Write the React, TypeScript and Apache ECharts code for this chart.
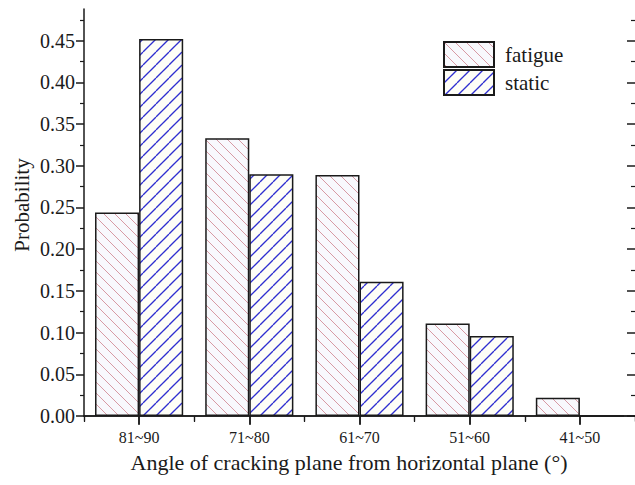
import React, { useEffect, useRef } from "react";
import * as echarts from "echarts";

// Angle classes of the cracking plane, measured from the horizontal
const categories = ["81~90", "71~80", "61~70", "51~60", "41~50"];
const fatigueProb = [0.244, 0.333, 0.289, 0.111, 0.022];
const staticProb = [0.452, 0.29, 0.161, 0.096, 0];

const yMajorTicks = [0, 0.05, 0.1, 0.15, 0.2, 0.25, 0.3, 0.35, 0.4, 0.45];
const yMinorTicks = [0.025, 0.075, 0.125, 0.175, 0.225, 0.275, 0.325, 0.375, 0.425, 0.475];
const yMax = 0.488;

const SERIF = "Liberation Serif";
const INK = "#1a1a1a";

// Builds a small tile with diagonal hatching, used as a repeating fill
function hatchTile(size: number, dir: "/" | "\\", line: string, bg: string, lw: number): string {
  const c = document.createElement("canvas");
  c.width = size;
  c.height = size;
  const ctx = c.getContext("2d")!;
  ctx.fillStyle = bg;
  ctx.fillRect(0, 0, size, size);
  ctx.strokeStyle = line;
  ctx.lineWidth = lw;
  for (const o of [-size, 0, size]) {
    ctx.beginPath();
    if (dir === "/") {
      ctx.moveTo(o, size);
      ctx.lineTo(o + size, 0);
    } else {
      ctx.moveTo(o, 0);
      ctx.lineTo(o + size, size);
    }
    ctx.stroke();
  }
  return c.toDataURL();
}

export default function App() {
  const ref = useRef<HTMLDivElement>(null);

  useEffect(() => {
    if (!ref.current) return;
    const chart = echarts.init(ref.current, undefined, { renderer: "svg" });

    const fatigueFill = {
      image: hatchTile(11, "\\", "#d38e9a", "#f8f9fd", 0.9),
      repeat: "repeat",
      imageWidth: 11,
      imageHeight: 11,
    };
    const staticFill = {
      image: hatchTile(13, "/", "#2f2fd0", "#fefef7", 1.3),
      repeat: "repeat",
      imageWidth: 13,
      imageHeight: 13,
    };

    const hiddenLine = { show: false };
    const valueAxisBase = {
      type: "value" as const,
      min: 0,
      max: yMax,
      interval: 0.05,
      splitLine: { show: false },
    };
    const catAxisBase = {
      type: "category" as const,
      data: categories,
      boundaryGap: true,
      splitLine: { show: false },
    };

    chart.setOption({
      animation: false,
      backgroundColor: "#ffffff",
      textStyle: { fontFamily: SERIF },
      grid: { left: 84, top: 9, width: 551, height: 407, containLabel: false },
      legend: {
        orient: "vertical",
        left: 443,
        top: 41,
        padding: 0,
        itemWidth: 50,
        itemHeight: 25,
        itemGap: 1,
        icon: "rect",
        textStyle: { fontFamily: SERIF, fontSize: 21, lineHeight: 25, color: INK, padding: [0, 0, 0, 6] },
        data: ["fatigue", "static"],
      },
      xAxis: [
        {
          ...catAxisBase,
          position: "bottom",
          axisLine: { show: true, lineStyle: { color: INK, width: 1.5 } },
          axisTick: { show: true, alignWithLabel: true, length: 9, lineStyle: { color: INK, width: 1.5 } },
          axisLabel: { fontFamily: SERIF, fontSize: 16, color: INK, margin: 13 },
        },
        {
          ...catAxisBase,
          position: "bottom",
          axisLine: hiddenLine,
          axisTick: { show: true, length: 5, lineStyle: { color: INK, width: 1.2 } },
          axisLabel: { show: false },
        },
        {
          ...catAxisBase,
          position: "top",
          axisLine: { show: true, lineStyle: { color: INK, width: 1.5 } },
          axisTick: { show: true, inside: true, alignWithLabel: true, length: 8, lineStyle: { color: INK, width: 1.5 } },
          axisLabel: { show: false },
        },
        {
          ...catAxisBase,
          position: "top",
          axisLine: hiddenLine,
          axisTick: { show: true, inside: true, length: 6, lineStyle: { color: INK, width: 1.2 } },
          axisLabel: { show: false },
        },
      ],
      yAxis: [
        {
          ...valueAxisBase,
          position: "left",
          axisLine: { show: true, lineStyle: { color: INK, width: 1.5 } },
          axisTick: { show: true, length: 8, customValues: yMajorTicks, lineStyle: { color: INK, width: 1.5 } },
          axisLabel: {
            customValues: yMajorTicks,
            fontFamily: SERIF,
            fontSize: 20,
            color: INK,
            margin: 9,
            formatter: (v: number) => v.toFixed(2),
          },
        },
        {
          ...valueAxisBase,
          position: "left",
          axisLine: hiddenLine,
          axisTick: { show: true, length: 4, customValues: yMinorTicks, lineStyle: { color: INK, width: 1.2 } },
          axisLabel: { show: false },
        },
        {
          ...valueAxisBase,
          position: "right",
          axisLine: hiddenLine,
          axisTick: { show: true, inside: true, length: 8, customValues: yMajorTicks, lineStyle: { color: INK, width: 1.5 } },
          axisLabel: { show: false },
        },
        {
          ...valueAxisBase,
          position: "right",
          axisLine: hiddenLine,
          axisTick: { show: true, inside: true, length: 4, customValues: yMinorTicks, lineStyle: { color: INK, width: 1.2 } },
          axisLabel: { show: false },
        },
      ],
      series: [
        {
          name: "fatigue",
          type: "bar",
          xAxisIndex: 0,
          yAxisIndex: 0,
          data: fatigueProb,
          barWidth: "40%",
          barGap: "0%",
          itemStyle: { color: fatigueFill, borderColor: INK, borderWidth: 1.5 },
        },
        {
          name: "static",
          type: "bar",
          xAxisIndex: 0,
          yAxisIndex: 0,
          data: staticProb,
          barWidth: "40%",
          barGap: "0%",
          itemStyle: { color: staticFill, borderColor: INK, borderWidth: 1.5 },
        },
      ],
      graphic: [
        {
          type: "text",
          x: 22,
          y: 205,
          rotation: Math.PI / 2,
          style: {
            text: "Probability",
            fontFamily: SERIF,
            fontSize: 21,
            fill: INK,
            textAlign: "center",
            textVerticalAlign: "middle",
          },
        },
        {
          type: "text",
          x: 349,
          y: 462,
          style: {
            text: "Angle of cracking plane from horizontal plane (°)",
            fontFamily: SERIF,
            fontSize: 22,
            fill: INK,
            textAlign: "center",
            textVerticalAlign: "middle",
          },
        },
      ],
    });

    return () => chart.dispose();
  }, []);

  return (
    <div
      ref={ref}
      style={{ position: "absolute", left: 0, top: 0, width: 635, height: 485 }}
    />
  );
}
